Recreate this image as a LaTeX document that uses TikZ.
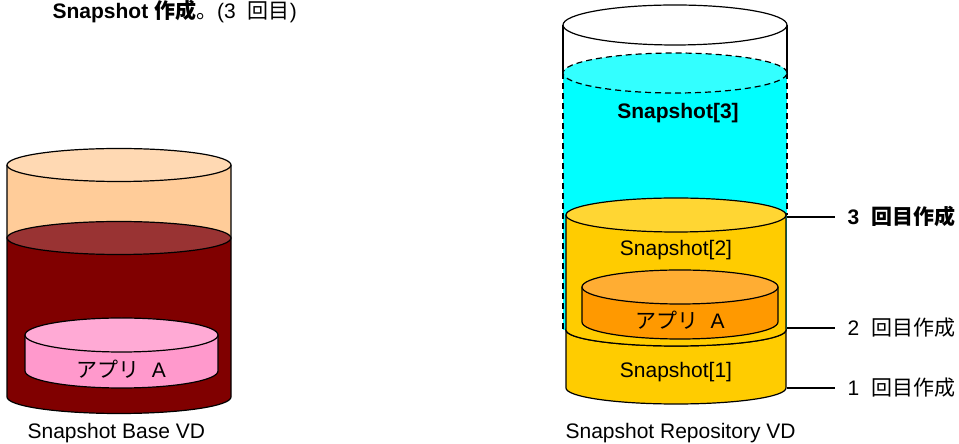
\documentclass[tikz,border=0pt]{standalone}
\usepackage{fontspec}
\setmainfont{Liberation Sans}
\newfontfamily\jpfont{Noto Sans CJK JP}
\usepackage{tikz}
\usetikzlibrary{positioning, calc}

\definecolor{peach}{HTML}{FFCC99}
\definecolor{peachtop}{HTML}{FFD9B3}
\definecolor{maroon}{HTML}{800000}
\definecolor{maroontop}{HTML}{993333}
\definecolor{pinkbody}{HTML}{FF99CC}
\definecolor{pinktop}{HTML}{FFAAD5}
\definecolor{cyanbody}{HTML}{00FFFF}
\definecolor{cyantop}{HTML}{33FFFF}
\definecolor{gold}{HTML}{FFCC00}
\definecolor{goldtop}{HTML}{FFD633}
\definecolor{orangebody}{HTML}{FF9900}
\definecolor{orangetop}{HTML}{FFAD33}

\begin{document}
\begin{tikzpicture}[x=0.5pt, y=0.5pt, line width=0.6pt,
    font=\fontsize{10.5}{12}\selectfont,
    outline/.style={draw=black, line join=round},
    hidden/.style={draw=black, dash pattern=on 3pt off 2pt},
    label/.style={anchor=west, inner xsep=6pt}]
          \useasboundingbox (0,0) rectangle (959,444);

          % Snapshot Base VD
          \coordinate (BaseTop) at (119,279);
          \coordinate (BaseMid) at (119,206);
          \coordinate (BaseBot) at (119,47);
          \coordinate (AppTop) at (121.5,109);

          \fill[peach] (7,279) rectangle (231,206);
          \fill[maroon] (7,206) -- (7,47) arc[start angle=180, end angle=360, x radius=112, y radius=16.5] -- (231,206) -- cycle;
          \draw[outline] (7,279) -- (7,47) arc[start angle=180, end angle=360, x radius=112, y radius=16.5] -- (231,279);
          \draw[outline, fill=maroontop] (BaseMid) ellipse [x radius=112, y radius=16.5];
          \draw[outline, fill=peachtop] (BaseTop) ellipse [x radius=112, y radius=16.5];

          \draw[outline, fill=pinkbody] (25,109) -- (25,73) arc[start angle=180, end angle=360, x radius=96.5, y radius=17] -- (218,109) -- cycle;
          \draw[outline, fill=pinktop] (AppTop) ellipse [x radius=96.5, y radius=17];
          \node (appbase) at (121.5,75) {{\jpfont アプリ}\hspace{6pt}A};

          % Snapshot Repository VD
          \coordinate (RepTop) at (675,419);
          \coordinate (SnapThree) at (675,371);
          \coordinate (SnapTwo) at (676,229);
          \coordinate (SnapOne) at (676,114);
          \coordinate (AppRep) at (680,157);

          \draw[outline] (563,419) -- (563,371);
          \draw[outline] (787,419) -- (787,371);
          \draw[outline, fill=white] (RepTop) ellipse [x radius=112, y radius=20];

          \fill[cyanbody] (563,371) rectangle (787,114);
          \draw[hidden] (563,371) -- (563,114);
          \draw[hidden] (787,371) -- (787,229);
          \draw[hidden, fill=cyantop] (SnapThree) ellipse [x radius=112, y radius=20];

          \draw[outline, fill=gold] (566,114) -- (566,56) arc[start angle=180, end angle=360, x radius=110, y radius=16] -- (786,114) -- cycle;
          \draw[outline, fill=gold] (SnapOne) ellipse [x radius=110, y radius=16];
          \draw[outline, fill=gold] (566,229) -- (566,114) arc[start angle=180, end angle=360, x radius=110, y radius=16] -- (786,229) -- cycle;
          \draw[outline, fill=goldtop] (SnapTwo) ellipse [x radius=110, y radius=17];

          \draw[outline, fill=orangebody] (582,157) -- (582,122) arc[start angle=180, end angle=360, x radius=98, y radius=17] -- (778,157) -- cycle;
          \draw[outline, fill=orangetop] (AppRep) ellipse [x radius=98, y radius=17];

          \node[font=\fontsize{10.5}{12}\selectfont\bfseries] (snap3) at (678,331) {Snapshot[3]};
          \node (snap2) at (676,194) {Snapshot[2]};
          \node (apprep) at (680,124) {{\jpfont アプリ}\hspace{6pt}A};
          \node (snap1) at (676,72) {Snapshot[1]};

          % generations
          \coordinate (G3) at (787,227);
          \coordinate (G2) at (787,116);
          \coordinate (G1) at (787,56);
          \node[label, font=\fontsize{10.5}{12}\selectfont\bfseries] (gen3) at (835,227) {3\hspace{6pt}{\jpfont 回目作成}};
          \node[label] (gen2) at (835,116) {2\hspace{6pt}{\jpfont 回目作成}};
          \node[label] (gen1) at (835,56) {1\hspace{6pt}{\jpfont 回目作成}};
          \draw (G3) -- (gen3.west);
          \draw (G2) -- (gen2.west);
          \draw (G1) -- (gen1.west);

          % captions
          \node[anchor=west, inner sep=0pt] (basecap) at (27,11) {Snapshot Base VD};
          \node[anchor=west, inner sep=0pt] (repcap) at (565,11) {Snapshot Repository VD};
          \node[anchor=west, inner sep=0pt] (title) at (52,432) {\textbf{Snapshot {\jpfont 作成}}{\jpfont 。}(3\hspace{6pt}{\jpfont 回目})};
        \end{tikzpicture}
\end{document}
